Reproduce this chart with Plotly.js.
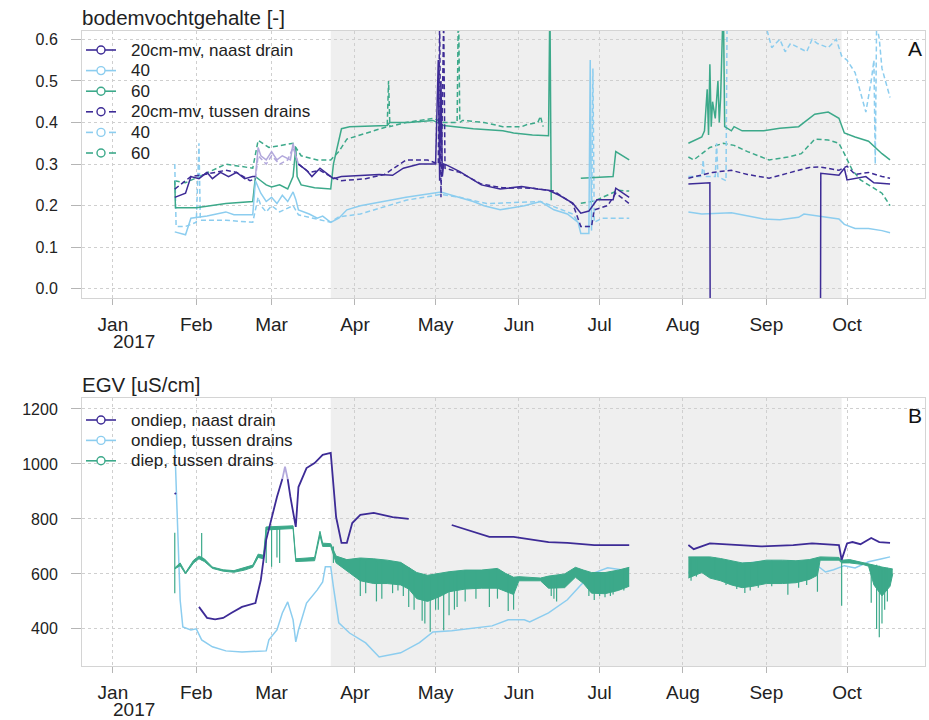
<!DOCTYPE html>
<html><head><meta charset="utf-8">
<script src="https://cdn.plot.ly/plotly-3.0.1.min.js"></script>
<style>html,body{margin:0;padding:0;background:#fff}#g{width:929px;height:720px}</style>
</head><body><div id="g"></div>
<script>
// ---------- axis ticks ----------
const monthTicks = ['2017-01-01','2017-02-01','2017-03-01','2017-04-01','2017-05-01','2017-06-01','2017-07-01','2017-08-01','2017-09-01','2017-10-01'];
const monthLabels = ['Jan','Feb','Mar','Apr','May','Jun','Jul','Aug','Sep','Oct'];
const yearLabel = '2017', yearDate = '2017-01-01';
const xRange = ['2016-12-20 12:00','2017-10-30'];
const shadeStart = '2017-03-23', shadeEnd = '2017-09-29';

// ---------- panel A: bodemvochtgehalte ----------
const legendA = ['20cm-mv, naast drain','40','60','20cm-mv, tussen drains','40','60'];

const p20nDates = ['2017-01-24','2017-01-26','2017-01-28','2017-01-30','2017-02-02','2017-02-05','2017-02-07','2017-02-10','2017-02-13','2017-02-16','2017-02-19','2017-02-22','2017-02-23',
 '2017-03-01',
 '2017-03-11','2017-03-14','2017-03-16','2017-03-19','2017-03-21','2017-03-24','2017-03-27','2017-04-03','2017-04-10','2017-04-15','2017-04-19','2017-04-25','2017-05-01',
 '2017-05-02','2017-05-02 12:00','2017-05-03','2017-05-03 12:00','2017-05-04','2017-05-05','2017-05-10','2017-05-15','2017-05-18','2017-05-25','2017-06-02','2017-06-08','2017-06-12','2017-06-16','2017-06-21','2017-06-24','2017-06-27','2017-06-30','2017-07-06','2017-07-07','2017-07-12',
 '2017-07-20',
 '2017-08-03','2017-08-11','2017-08-11 06:00','2017-09-21','2017-09-21 06:00','2017-09-28','2017-09-30','2017-10-01','2017-10-08','2017-10-11','2017-10-17'];
const p20nVals = [0.22,0.225,0.23,0.27,0.265,0.28,0.265,0.28,0.27,0.28,0.265,0.27,0.27,
 null,
 0.30,0.285,0.27,0.29,0.28,0.265,0.27,0.272,0.275,0.273,0.29,0.30,0.30,
 0.55,0.26,0.50,0.27,0.30,0.298,0.282,0.262,0.25,0.24,0.246,0.24,0.237,0.225,0.206,0.182,0.187,0.214,0.214,0.242,0.22,
 null,
 0.252,0.255,-0.5,-0.5,0.278,0.273,0.29,0.262,0.27,0.255,0.252];
const p20nPaleDates = ['2017-02-23','2017-02-24','2017-02-25','2017-02-27','2017-03-01','2017-03-03','2017-03-05','2017-03-08','2017-03-09','2017-03-10','2017-03-11'];
const p20nPaleVals = [0.27,0.34,0.32,0.31,0.33,0.31,0.32,0.31,0.35,0.32,0.30];

const p20tDates = ['2017-01-24','2017-01-26','2017-01-30','2017-02-04','2017-02-08','2017-02-12','2017-02-16','2017-02-21','2017-02-23',
 '2017-03-01',
 '2017-03-11','2017-03-15','2017-03-19','2017-03-23','2017-03-27','2017-04-05','2017-04-12','2017-04-20','2017-04-28','2017-05-02','2017-05-02 12:00','2017-05-03','2017-05-04','2017-05-04 12:00','2017-05-10','2017-05-18','2017-05-26','2017-06-06','2017-06-14','2017-06-21','2017-06-24','2017-06-28','2017-06-29','2017-07-04','2017-07-07','2017-07-12',
 '2017-07-20',
 '2017-08-03','2017-08-12','2017-08-19','2017-08-25','2017-09-02','2017-09-10','2017-09-17','2017-09-21','2017-09-28','2017-10-01','2017-10-04','2017-10-09','2017-10-14','2017-10-17'];
const p20tVals = [0.24,0.25,0.27,0.275,0.28,0.285,0.28,0.26,0.265,
 null,
 0.30,0.28,0.285,0.27,0.26,0.265,0.275,0.31,0.31,0.30,0.65,0.22,0.65,0.29,0.28,0.252,0.243,0.242,0.235,0.205,0.15,0.15,0.19,0.20,0.23,0.205,
 null,
 0.266,0.28,0.285,0.275,0.266,0.28,0.292,0.293,0.285,0.295,0.275,0.28,0.27,0.266];
const p20tPaleDates = ['2017-02-23','2017-02-24','2017-02-27','2017-03-01','2017-03-04','2017-03-07','2017-03-09','2017-03-11'];
const p20tPaleVals = [0.265,0.32,0.30,0.32,0.30,0.31,0.34,0.30];

const lb40nDates = ['2017-01-24','2017-01-28','2017-01-30','2017-02-05','2017-02-12','2017-02-15','2017-02-22','2017-02-23','2017-02-25','2017-02-27','2017-03-01','2017-03-03','2017-03-05','2017-03-07','2017-03-09','2017-03-10','2017-03-11','2017-03-15','2017-03-18','2017-03-20','2017-03-23','2017-03-26','2017-03-29','2017-04-03','2017-04-20','2017-05-03','2017-05-07','2017-05-15','2017-05-19','2017-05-25','2017-06-03','2017-06-09','2017-06-14','2017-06-19','2017-06-23','2017-06-24','2017-06-27','2017-06-27 12:00','2017-06-28',
 '2017-07-20',
 '2017-08-03','2017-08-08','2017-08-19','2017-08-25','2017-08-31','2017-09-06','2017-09-13','2017-09-15','2017-09-21','2017-09-28','2017-09-30','2017-10-04','2017-10-09','2017-10-14','2017-10-17'];
const lb40nVals = [0.137,0.13,0.17,0.175,0.185,0.178,0.178,0.26,0.23,0.21,0.22,0.205,0.225,0.21,0.233,0.215,0.19,0.18,0.17,0.175,0.16,0.17,0.19,0.20,0.22,0.233,0.225,0.21,0.20,0.19,0.20,0.21,0.19,0.18,0.16,0.133,0.133,0.55,0.14,
 null,
 0.185,0.18,0.183,0.175,0.168,0.166,0.172,0.18,0.175,0.168,0.155,0.145,0.145,0.14,0.135];

const lb40tDates = ['2017-01-24','2017-01-24 12:00','2017-01-28','2017-02-01','2017-02-02','2017-02-02 12:00','2017-02-12','2017-02-22','2017-02-24','2017-02-25','2017-02-27','2017-03-01','2017-03-04','2017-03-07','2017-03-09','2017-03-11','2017-03-16','2017-03-23','2017-03-26','2017-04-03','2017-04-20','2017-05-03','2017-05-10','2017-05-20','2017-06-09','2017-06-21','2017-06-24','2017-06-28','2017-06-28 12:00','2017-06-29','2017-07-02','2017-07-12',
 '2017-07-20',
 '2017-08-03','2017-08-08','2017-08-08 12:00','2017-08-09','2017-08-13','2017-08-13 12:00','2017-08-14','2017-08-17','2017-08-17 12:00','2017-08-29','2017-09-03','2017-09-06','2017-09-08','2017-09-10','2017-09-13','2017-09-16','2017-09-18','2017-09-20','2017-09-24','2017-09-27','2017-09-29','2017-10-01','2017-10-04','2017-10-08','2017-10-10','2017-10-11','2017-10-11 12:00','2017-10-12','2017-10-13','2017-10-14','2017-10-17'];
const lb40tVals = [0.30,0.15,0.15,0.16,0.35,0.165,0.165,0.16,0.22,0.20,0.185,0.20,0.185,0.195,0.20,0.178,0.17,0.16,0.173,0.18,0.213,0.227,0.22,0.205,0.21,0.18,0.15,0.15,0.53,0.16,0.17,0.17,
 null,
 0.27,0.27,0.31,0.27,0.27,0.35,0.27,0.26,0.75,0.70,0.58,0.60,0.57,0.59,0.58,0.57,0.60,0.59,0.58,0.60,0.56,0.55,0.52,0.425,0.50,0.55,0.30,0.64,0.60,0.53,0.46];

const t60nDates = ['2017-01-24','2017-01-24 06:00','2017-02-01','2017-02-12','2017-02-22','2017-02-23','2017-02-25','2017-02-27','2017-03-01','2017-03-04','2017-03-07','2017-03-09','2017-03-10','2017-03-10 12:00','2017-03-12','2017-03-17','2017-03-23','2017-03-24','2017-03-27','2017-03-30','2017-04-13','2017-04-14','2017-04-21','2017-04-30','2017-05-04','2017-05-15','2017-05-26','2017-05-30','2017-06-06','2017-06-12','2017-06-12 12:00','2017-06-13',
 '2017-06-18',
 '2017-06-24','2017-07-06','2017-07-07','2017-07-12',
 '2017-07-20',
 '2017-08-03','2017-08-08','2017-08-09','2017-08-10','2017-08-10 12:00','2017-08-11','2017-08-11 12:00','2017-08-12','2017-08-13','2017-08-14','2017-08-14 12:00','2017-08-15','2017-08-16','2017-08-16 12:00','2017-08-19','2017-08-20','2017-08-23','2017-08-31','2017-09-06','2017-09-13','2017-09-19','2017-09-24','2017-09-28','2017-09-30','2017-10-04','2017-10-09','2017-10-14','2017-10-17'];
const t60nVals = [0.26,0.195,0.195,0.205,0.21,0.27,0.26,0.25,0.245,0.25,0.24,0.27,0.34,0.27,0.25,0.243,0.24,0.30,0.385,0.39,0.393,0.40,0.40,0.405,0.393,0.385,0.38,0.375,0.37,0.368,0.70,0.213,
 null,
 0.266,0.27,0.33,0.31,
 null,
 0.35,0.365,0.38,0.48,0.37,0.54,0.39,0.45,0.41,0.50,0.40,0.46,0.70,0.39,0.38,0.39,0.38,0.38,0.386,0.39,0.42,0.425,0.41,0.375,0.365,0.355,0.325,0.31];

const t60tDates = ['2017-01-24','2017-01-28','2017-02-02','2017-02-12','2017-02-22','2017-02-24','2017-02-28','2017-03-09','2017-03-12','2017-03-18','2017-03-23','2017-03-26','2017-03-29','2017-04-03','2017-04-13','2017-04-13 12:00','2017-04-14','2017-04-20','2017-04-30','2017-05-04','2017-05-09','2017-05-09 12:00','2017-05-10','2017-05-11','2017-05-19','2017-05-26','2017-06-02','2017-06-04','2017-06-08','2017-06-09','2017-06-10',
 '2017-06-18',
 '2017-06-24','2017-06-28','2017-06-30','2017-07-06','2017-07-08','2017-07-12',
 '2017-07-20',
 '2017-08-03','2017-08-05','2017-08-11','2017-08-16','2017-08-20','2017-08-25','2017-09-02','2017-09-09','2017-09-14','2017-09-17','2017-09-19','2017-09-24','2017-09-28','2017-09-30','2017-10-03','2017-10-06','2017-10-10','2017-10-14','2017-10-17'];
const t60tVals = [0.26,0.255,0.27,0.30,0.29,0.357,0.34,0.35,0.32,0.31,0.31,0.33,0.36,0.37,0.39,0.50,0.39,0.40,0.41,0.40,0.40,0.70,0.40,0.405,0.40,0.39,0.39,0.395,0.40,0.415,0.39,
 null,
 0.206,0.21,0.214,0.23,0.237,0.235,
 null,
 0.317,0.31,0.34,0.35,0.345,0.33,0.31,0.317,0.325,0.345,0.36,0.358,0.35,0.325,0.285,0.262,0.245,0.23,0.20];

// ---------- panel B: EGV ----------
const legendB = ['ondiep, naast drain','ondiep, tussen drains','diep, tussen drains'];

const egvNDates = ['2017-01-24','2017-01-24 10:00','2017-01-28','2017-02-02','2017-02-05','2017-02-08','2017-02-11','2017-02-14','2017-02-18','2017-02-23','2017-02-25','2017-02-27','2017-03-03','2017-03-05',
 '2017-03-06',
 '2017-03-07','2017-03-08','2017-03-10','2017-03-11','2017-03-14','2017-03-17','2017-03-20','2017-03-23','2017-03-25','2017-03-27','2017-03-29','2017-03-31','2017-04-03','2017-04-08','2017-04-15','2017-04-21',
 '2017-04-30',
 '2017-05-07','2017-05-13','2017-05-21','2017-05-30','2017-06-05','2017-06-12','2017-06-19','2017-06-29','2017-07-12',
 '2017-07-20',
 '2017-08-03','2017-08-05','2017-08-11','2017-08-24','2017-08-30','2017-09-11','2017-09-18','2017-09-28','2017-09-29','2017-10-01','2017-10-03','2017-10-06','2017-10-10','2017-10-13','2017-10-17'];
const egvNVals = [895,890,null,480,440,435,440,458,480,494,578,724,880,945,
 null,
 945,880,771,916,985,1003,1033,1040,807,713,713,785,815,822,807,800,
 null,
 778,760,735,735,727,716,713,705,705,
 null,
 705,690,711,705,700,705,711,705,651,711,716,708,731,716,713];
const egvNPaleDates = ['2017-03-05','2017-03-06','2017-03-07'];
const egvNPaleVals = [945,990,945];

const egvTDates = ['2017-01-24','2017-01-26','2017-01-27','2017-01-30','2017-02-01','2017-02-03','2017-02-07','2017-02-12','2017-02-18','2017-02-27','2017-02-28','2017-03-03','2017-03-05','2017-03-07','2017-03-09','2017-03-10','2017-03-11','2017-03-14','2017-03-18','2017-03-20','2017-03-21','2017-03-23','2017-03-24','2017-03-26','2017-03-30','2017-04-05','2017-04-10','2017-04-18','2017-04-25','2017-04-30','2017-05-07','2017-05-15','2017-05-22','2017-05-28','2017-06-03','2017-06-05','2017-06-12','2017-06-19','2017-06-24','2017-06-29','2017-07-04','2017-07-09','2017-07-12',
 '2017-07-20',
 '2017-08-03','2017-08-05','2017-08-11','2017-08-18','2017-08-30','2017-09-11','2017-09-20','2017-09-23','2017-09-26','2017-09-30','2017-10-04','2017-10-09','2017-10-14','2017-10-17'];
const egvTVals = [1070,505,407,396,400,360,335,320,316,320,360,396,458,498,433,353,396,494,542,571,626,626,553,422,385,349,298,313,350,389,393,404,411,433,433,425,458,506,560,604,622,615,615,
 null,
 607,600,640,633,644,640,630,607,615,630,622,644,655,662];

// deep, between drains: dense noisy band (upper / lower edge) plus individual spikes
const egvD1Dates = ['2017-01-24','2017-01-26','2017-01-28','2017-01-31','2017-02-02','2017-02-04','2017-02-07','2017-02-11','2017-02-15','2017-02-19','2017-02-22','2017-02-24','2017-02-26','2017-02-27','2017-03-09','2017-03-10','2017-03-17','2017-03-19','2017-03-20','2017-03-23','2017-03-25','2017-03-29','2017-04-03','2017-04-08','2017-04-13','2017-04-18','2017-04-21','2017-04-24','2017-04-28','2017-05-02','2017-05-06','2017-05-12','2017-05-18','2017-05-24','2017-05-27','2017-05-30','2017-06-01','2017-06-09','2017-06-12','2017-06-18','2017-06-22','2017-06-25','2017-06-28','2017-07-03','2017-07-08','2017-07-12'];
const egvD1Hi = [622,640,605,650,665,655,625,615,612,622,632,672,668,771,775,655,660,755,712,710,665,652,658,655,650,642,625,605,595,602,608,614,614,620,602,588,590,585,592,600,624,614,605,605,614,624];
const egvD1Lo = [618,630,600,640,655,645,620,610,606,614,624,660,655,760,765,645,648,740,700,700,640,610,575,565,565,560,545,510,500,515,535,545,548,548,535,525,575,575,548,550,588,565,530,528,540,555];
const egvD2Dates = ['2017-08-03','2017-08-08','2017-08-11','2017-08-15','2017-08-19','2017-08-23','2017-08-27','2017-09-01','2017-09-07','2017-09-12','2017-09-17','2017-09-20','2017-09-21','2017-09-28','2017-09-29','2017-10-02','2017-10-07','2017-10-09','2017-10-11','2017-10-14','2017-10-17','2017-10-18'];
const egvD2Hi = [662,662,662,656,648,640,642,650,650,648,652,660,662,660,650,652,642,638,632,625,620,618];
const egvD2Lo = [585,605,585,575,560,550,555,565,565,568,580,595,650,650,640,640,634,628,560,520,555,600];
const egvSpikeDates = ['2017-01-24','2017-02-03','2017-02-27','2017-03-01','2017-03-03','2017-03-04','2017-03-24',
 '2017-04-03','2017-04-05','2017-04-09','2017-04-11','2017-04-15','2017-04-17','2017-04-19','2017-04-21','2017-04-23','2017-04-26','2017-04-27','2017-04-29','2017-05-01','2017-05-02','2017-05-04','2017-05-06','2017-05-08','2017-05-09','2017-05-12','2017-05-16','2017-05-21','2017-05-24','2017-05-28','2017-05-30','2017-06-13','2017-06-14','2017-06-15','2017-06-27','2017-06-29','2017-07-01','2017-07-03','2017-07-05','2017-07-06','2017-07-10',
 '2017-08-04','2017-08-06','2017-08-13','2017-08-17','2017-08-21','2017-08-24','2017-08-26','2017-08-29','2017-09-03','2017-09-09','2017-09-13','2017-09-16','2017-09-20','2017-09-29','2017-10-10','2017-10-12','2017-10-13','2017-10-14','2017-10-15','2017-10-16'];
const egvSpikeTop = [750,749,771,771,771,771,700,
 650,650,645,645,640,640,635,625,600,595,595,590,598,600,600,605,608,610,612,612,614,616,600,588,590,590,592,605,605,605,605,608,610,618,
 660,660,660,650,642,640,640,642,648,650,648,648,655,660,633,633,630,622,622,622];
const egvSpikeBot = [530,650,640,626,660,640,640,
 520,530,500,510,530,540,520,480,470,430,420,390,470,470,395,450,470,480,500,510,480,510,465,470,520,510,500,520,505,520,515,520,525,540,
 575,590,585,560,545,531,540,550,555,524,550,560,535,484,495,400,370,420,470,500];

// ---------- styling ----------
const PURPLE = '#3d2b96', PALE = '#b2a8dc', LBLUE = '#8ccdef', TEAL = '#3ca98a';
const FONT = 'Liberation Sans, Arial, sans-serif';
const DASH = '5px,3px';

function ln(x, y, color, dash, xa, ya, width) {
  return {x: x, y: y, type: 'scatter', mode: 'lines', connectgaps: false, showlegend: false,
    hoverinfo: 'skip', xaxis: xa, yaxis: ya,
    line: {color: color, width: width || 1.5, dash: dash || 'solid'}};
}
function band(x, lo, hi, color, xa, ya) {
  return [ln(x, lo, color, 'solid', xa, ya, 1),
          Object.assign(ln(x, hi, color, 'solid', xa, ya, 1), {fill: 'tonexty', fillcolor: color})];
}
function spikes(d, top, bot, color, xa, ya) {
  const xs = [], ys = [];
  d.forEach((v, i) => { xs.push(v, v, v); ys.push(top[i], bot[i], null); });
  return ln(xs, ys, color, 'solid', xa, ya, 1.2);
}

const traces = [
  ln(t60tDates, t60tVals, TEAL, DASH, 'x', 'y'),
  ln(lb40tDates, lb40tVals, LBLUE, DASH, 'x', 'y'),
  ln(t60nDates, t60nVals, TEAL, 'solid', 'x', 'y'),
  ln(lb40nDates, lb40nVals, LBLUE, 'solid', 'x', 'y'),
  ln(p20tPaleDates, p20tPaleVals, PALE, DASH, 'x', 'y'),
  ln(p20nPaleDates, p20nPaleVals, PALE, 'solid', 'x', 'y'),
  ln(p20tDates, p20tVals, PURPLE, DASH, 'x', 'y'),
  ln(p20nDates, p20nVals, PURPLE, 'solid', 'x', 'y'),
  ln(egvTDates, egvTVals, LBLUE, 'solid', 'x2', 'y2'),
  ...band(egvD1Dates, egvD1Lo, egvD1Hi, TEAL, 'x2', 'y2'),
  ...band(egvD2Dates, egvD2Lo, egvD2Hi, TEAL, 'x2', 'y2'),
  spikes(egvSpikeDates, egvSpikeTop, egvSpikeBot, TEAL, 'x2', 'y2'),
  ln(egvNPaleDates, egvNPaleVals, PALE, 'solid', 'x2', 'y2', 1.8),
  ln(egvNDates, egvNVals, PURPLE, 'solid', 'x2', 'y2', 1.8)
];

// ---------- geometry helpers (pixel -> paper) ----------
const W = 929, H = 720, ML = 82, MR = 4, MT = 31, MB = 54;
const PW = W - ML - MR, PH = H - MT - MB;
const px = v => (v - ML) / PW;
const py = v => (H - MB - v) / PH;

const GRID = '#cfcfcf', FRAME = '#d4d4d4', TICKC = '#b5b5b5';
function xax(anchor) {
  return {anchor: anchor, type: 'date', range: xRange, tickmode: 'array', tickvals: monthTicks, ticktext: monthLabels,
    showgrid: true, gridcolor: GRID, griddash: 'dot', gridwidth: 1,
    showline: true, mirror: true, linecolor: FRAME, linewidth: 1,
    ticks: 'outside', ticklen: 6, tickcolor: TICKC, ticklabelstandoff: 3,
    tickfont: {size: 19, color: '#222', family: FONT}, zeroline: false, fixedrange: true};
}
function yax(anchor, domain, range, vals, fmt) {
  return {anchor: anchor, domain: domain, range: range, tickmode: 'array', tickvals: vals, tickformat: fmt,
    showgrid: true, gridcolor: GRID, griddash: 'dot', gridwidth: 1,
    showline: true, mirror: true, linecolor: FRAME, linewidth: 1,
    ticks: 'outside', ticklen: 10, tickcolor: TICKC, ticklabelstandoff: 10,
    tickfont: {size: 16, color: '#222', family: FONT}, zeroline: false, fixedrange: true};
}
const yTicksA = [0, 0.1, 0.2, 0.3, 0.4, 0.5, 0.6];
const yTicksB = [400, 600, 800, 1000, 1200];
const TOPDOM = [py(298), 1], BOTDOM = [0, py(398)];

const shapes = [
  {type: 'rect', xref: 'x', yref: 'y domain', x0: shadeStart, x1: shadeEnd, y0: 0, y1: 1, fillcolor: '#efefef', line: {width: 0}, layer: 'below'},
  {type: 'rect', xref: 'x2', yref: 'y2 domain', x0: shadeStart, x1: shadeEnd, y0: 0, y1: 1, fillcolor: '#efefef', line: {width: 0}, layer: 'below'},
  // legend backgrounds (hide the grid, under the data)
  {type: 'rect', xref: 'paper', yref: 'paper', x0: px(83), x1: px(318), y0: py(164), y1: py(32), fillcolor: '#ffffff', line: {width: 0}, layer: 'between'},
  {type: 'rect', xref: 'paper', yref: 'paper', x0: px(83), x1: px(305), y0: py(471), y1: py(399), fillcolor: '#ffffff', line: {width: 0}, layer: 'between'}
];
const annotations = [
  {text: 'bodemvochtgehalte [-]', xref: 'paper', yref: 'paper', x: 0, y: 1, xanchor: 'left', yanchor: 'bottom', showarrow: false, font: {size: 20.5, color: '#222'}, xshift: -2},
  {text: 'EGV [uS/cm]', xref: 'paper', yref: 'paper', x: 0, y: BOTDOM[1], xanchor: 'left', yanchor: 'bottom', showarrow: false, font: {size: 20.5, color: '#222'}, xshift: -2},
  {text: 'A', xref: 'paper', yref: 'paper', x: 1, y: 1, xanchor: 'right', yanchor: 'top', showarrow: false, font: {size: 21, color: '#111'}, xshift: -1, yshift: -4},
  {text: 'B', xref: 'paper', yref: 'paper', x: 1, y: BOTDOM[1], xanchor: 'right', yanchor: 'top', showarrow: false, font: {size: 21, color: '#111'}, xshift: -1, yshift: -4},
  {text: yearLabel, xref: 'x', yref: 'paper', x: yearDate, y: TOPDOM[0], xanchor: 'left', yanchor: 'top', showarrow: false, font: {size: 19, color: '#222'}, xshift: -2, yshift: -31},
  {text: yearLabel, xref: 'x2', yref: 'paper', x: yearDate, y: 0, xanchor: 'left', yanchor: 'top', showarrow: false, font: {size: 19, color: '#222'}, xshift: -2, yshift: -31}
];

// manual legends: line + open circle + label
function legendItem(label, color, dashed, yPix) {
  const y = py(yPix);
  if (dashed) {
    shapes.push({type: 'line', xref: 'paper', yref: 'paper', x0: px(86), x1: px(93), y0: y, y1: y, line: {color: color, width: 1.6}});
    shapes.push({type: 'line', xref: 'paper', yref: 'paper', x0: px(109), x1: px(116), y0: y, y1: y, line: {color: color, width: 1.6}});
  } else {
    shapes.push({type: 'line', xref: 'paper', yref: 'paper', x0: px(86), x1: px(116), y0: y, y1: y, line: {color: color, width: 1.6}});
  }
  shapes.push({type: 'circle', xref: 'paper', yref: 'paper', x0: px(97), x1: px(105), y0: py(yPix + 4), y1: py(yPix - 4),
    fillcolor: '#ffffff', line: {color: color, width: 1.4}});
  annotations.push({text: label, xref: 'paper', yref: 'paper', x: px(129), y: y, xanchor: 'left', yanchor: 'middle',
    showarrow: false, font: {size: 17, color: '#222'}});
}
const colA = [PURPLE, LBLUE, TEAL, PURPLE, LBLUE, TEAL];
const dashA = [false, false, false, true, true, true];
legendA.forEach((t, i) => legendItem(t, colA[i], dashA[i], 50 + i * 20.6));
const colB = [PURPLE, LBLUE, TEAL];
legendB.forEach((t, i) => legendItem(t, colB[i], false, 420 + i * 20.4));

const layout = {
  width: W, height: H,
  margin: {l: ML, r: MR, t: MT, b: MB},
  paper_bgcolor: '#fff', plot_bgcolor: '#fff',
  font: {family: FONT, color: '#222'},
  showlegend: false,
  xaxis: xax('y'),
  yaxis: yax('x', TOPDOM, [-0.022, 0.62], yTicksA, '.1f'),
  xaxis2: xax('y2'),
  yaxis2: yax('x2', BOTDOM, [265, 1240], yTicksB, 'd'),
  shapes: shapes,
  annotations: annotations
};

Plotly.newPlot('g', traces, layout, {displayModeBar: false, staticPlot: true});
</script>
</body></html>
